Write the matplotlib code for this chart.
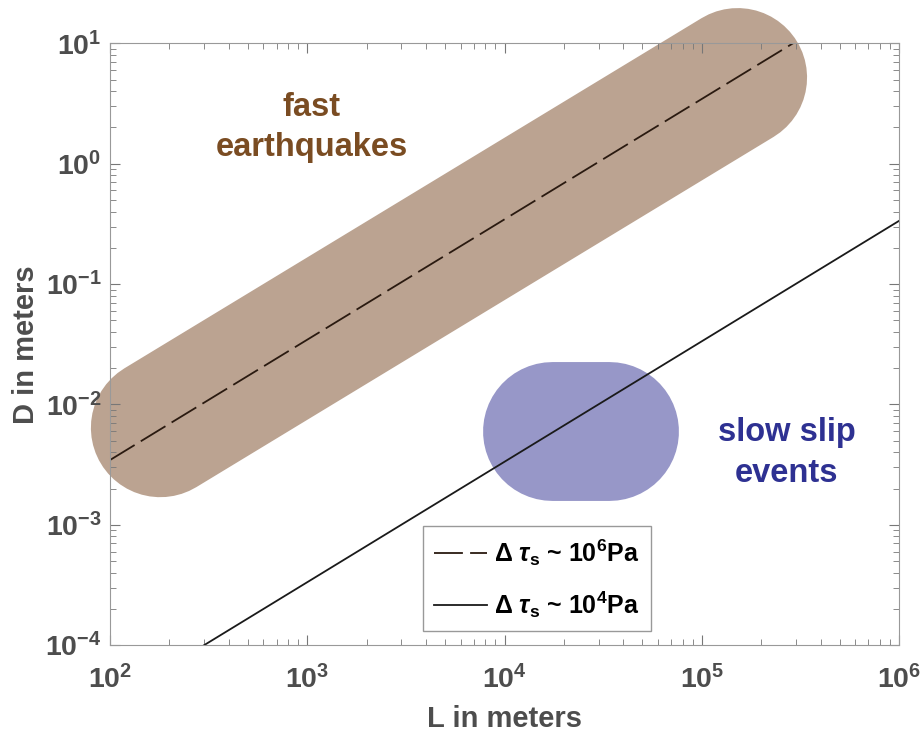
import numpy as np
import matplotlib
matplotlib.use('Agg')
from matplotlib import pyplot as plt

plt.rcParams['font.family'] = ['Liberation Sans', 'DejaVu Sans']
plt.rcParams['font.weight'] = 'bold'
plt.rcParams['mathtext.fontset'] = 'custom'
plt.rcParams['mathtext.rm'] = 'Liberation Sans:bold'
plt.rcParams['mathtext.bf'] = 'Liberation Sans:bold'
plt.rcParams['mathtext.it'] = 'Liberation Sans:bold:italic'

# scaling lines D ~ (dtau/mu) L
L_fast = [1e2, 2.9e5]
D_fast = [3.45e-3, 10.0]
L_slow = [3e2, 1e6]
D_slow = [1.0e-4, 3.35e-1]

# centre lines of the shaded regions
L_eq_band = [180, 1.52e5]
D_eq_band = [6.4e-3, 5.2]
L_sse_band = [1.75e4, 3.4e4]
D_sse_band = [6.0e-3, 6.0e-3]

xticks = [1e2, 1e3, 1e4, 1e5, 1e6]
yticks = [1e-4, 1e-3, 1e-2, 1e-1, 1e0, 1e1]

grey = '#4d4d4d'
brown_fill = '#bba391'
brown_text = '#7a4c22'
blue_fill = '#9797c8'
blue_text = '#2e3192'

fig = plt.figure(figsize=(9.24, 7.34), dpi=100)
ax = fig.add_axes([0.119, 0.121, 0.854, 0.820])
ax.set_xscale('log')
ax.set_yscale('log')

# regions drawn as fat round-capped strokes
ax.plot(L_eq_band, D_eq_band, color=brown_fill, lw=100, solid_capstyle='round',
        clip_on=False, zorder=1)
ax.plot(L_sse_band, D_sse_band, color=blue_fill, lw=100, solid_capstyle='round',
        clip_on=False, zorder=1)

ax.plot(L_fast, D_fast, color='#2a1a10', lw=1.3, dashes=(16, 4), zorder=3,
        label='Δ ' + r'$\tau_\mathbf{s}$' + ' ~ 10' + r'$^\mathbf{6}$' + 'Pa')
ax.plot(L_slow, D_slow, color='#1a1a1a', lw=1.3, zorder=3,
        label='Δ ' + r'$\tau_\mathbf{s}$' + ' ~ 10' + r'$^\mathbf{4}$' + 'Pa')

ax.text(1.05e3, 2.0, 'fast\nearthquakes', color=brown_text, fontsize=23.5,
        fontweight='bold', ha='center', va='center', linespacing=1.4)
ax.text(2.69e5, 3.97e-3, 'slow slip\nevents', color=blue_text, fontsize=23.5,
        fontweight='bold', ha='center', va='center', linespacing=1.4)

ax.set_xlim(1e2, 1e6)
ax.set_ylim(1e-4, 1e1)
ax.set_xticks(xticks)
ax.set_xticklabels([r'$\mathbf{10^{%d}}$' % np.log10(v) for v in xticks])
ax.set_yticks(yticks)
ax.set_yticklabels([r'$\mathbf{10^{%d}}$' % np.log10(v) for v in yticks])
ax.tick_params(which='both', direction='in', top=True, right=True, colors='#777777',
               labelcolor=grey, labelsize=20.5)
ax.tick_params(which='major', length=7)
ax.tick_params(which='minor', length=4)
ax.tick_params(axis='x', which='major', pad=14)
ax.tick_params(axis='y', which='major', pad=6)
for s in ax.spines.values():
    s.set_color('#999999')
    s.set_zorder(5)

ax.set_xlabel('L in meters', fontsize=21, fontweight='bold', color=grey, labelpad=8)
ax.set_ylabel('D in meters', fontsize=21, fontweight='bold', color=grey, labelpad=4)

leg = ax.legend(loc='lower left', bbox_to_anchor=(0.397, 0.023), fontsize=18,
                fancybox=False, framealpha=1, edgecolor='#999999', handlelength=2.1,
                labelspacing=0.85, borderpad=0.45, handletextpad=0.3, borderaxespad=0)
leg.set_zorder(6)

fig.savefig('out.png', dpi=100)
